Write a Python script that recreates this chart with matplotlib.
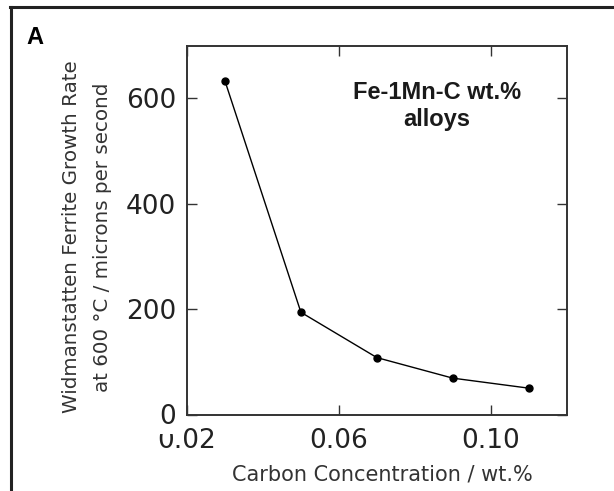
import matplotlib
matplotlib.use("Agg")
import matplotlib.pyplot as plt
from matplotlib.lines import Line2D

carbon = [0.03, 0.05, 0.07, 0.09, 0.11]
growth_rate = [633, 194, 108, 69, 50]
x_ticks = [0.02, 0.06, 0.10]
x_tick_labels = ["0.02", "0.06", "0.10"]
y_ticks = [0, 200, 400, 600]
y_tick_labels = ["0", "200", "400", "600"]

fig = plt.figure(figsize=(6.14, 4.91), dpi=100)
ax = fig.add_axes([187/614, 1-414.5/491, (566.7-187)/614, (414.5-45.7)/491])

ax.plot(carbon, growth_rate, color="black", lw=1.0, marker="o", ms=5, zorder=3)
ax.set_xlim(0.02, 0.12)
ax.set_ylim(0, 700)
ax.set_xticks(x_ticks)
ax.set_xticklabels(x_tick_labels)
ax.set_yticks(y_ticks)
ax.set_yticklabels(y_tick_labels)

txtc = "#222222"
ax.tick_params(direction="in", length=7, width=1.0, color="#333333",
               top=True, right=True, labelsize=19, labelcolor=txtc)
ax.tick_params(axis="x", pad=10)
ax.tick_params(axis="y", pad=8)
for lab in ax.get_yticklabels():
    lab.set_bbox(dict(facecolor="white", edgecolor="none", pad=2.2))
for s in ax.spines.values():
    s.set_color("#333333")
    s.set_linewidth(1.4)

ax.set_xlabel("Carbon Concentration / wt.%", fontsize=15, color="#333333", labelpad=7)
ax.xaxis.set_label_coords(0.515, -0.135)

fig.text(87.5/614, 1-237/491,
         "Widmanstatten Ferrite Growth Rate\nat 600 °C / microns per second",
         rotation=90, ha="center", va="center", multialignment="center",
         fontsize=14.3, color="#333333", linespacing=1.8)

ax.text(0.658, 0.836, "Fe-1Mn-C wt.%\nalloys", transform=ax.transAxes,
        ha="center", va="center", multialignment="center",
        fontsize=17, fontweight="bold", family="Liberation Sans",
        color="#1a1a1a", linespacing=1.2)

fig.text(26/614, 1-44/491, "A", fontsize=17, fontweight="bold",
         family="Liberation Sans", ha="left", va="baseline")

fig.add_artist(Line2D([11/614, 11/614], [0, 1-7/491], color="#222222", lw=2.2))
fig.add_artist(Line2D([10/614, 1], [1-7/491, 1-7/491], color="#222222", lw=2.2))

fig.savefig("out.png", dpi=100)
